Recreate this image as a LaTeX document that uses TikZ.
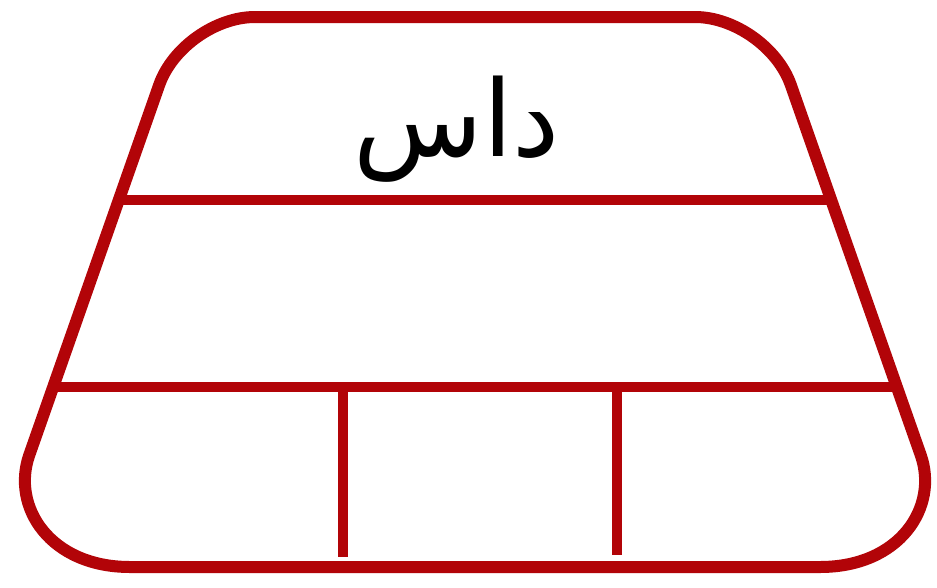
\documentclass[tikz,border=0pt]{standalone}
\usepackage{fontspec}
\newfontfamily\arabicfont[Script=Arabic]{DejaVu Sans}
\TeXXeTstate=1
\usetikzlibrary{calc}
\definecolor{framered}{RGB}{178,4,8}
\tikzset{
  outline/.style={draw=framered, line width=12pt, line join=round},
  divider/.style={draw=framered, line width=10pt},
  title/.style={text=black, font=\arabicfont\fontsize{106}{120}\selectfont, inner sep=0pt}
}
\begin{document}
\begin{tikzpicture}[x=1pt,y=-1pt]
\useasboundingbox (0,0) rectangle (937,587);
\coordinate (TL) at (183,17);
\coordinate (TR) at (767,17);
\coordinate (BL) at (-10,567);
\coordinate (BR) at (960,567);
\draw[outline] (130,567) -- (820,567)
  .. controls (900,567) and (938.9,506.9) .. (920.7,455)
  -- (790.8,84.9)
  .. controls (777.7,47.6) and (734.6,17) .. (695,17)
  -- (255,17)
  .. controls (215.4,17) and (172.3,47.6) .. (159.2,84.9)
  -- (29.3,455)
  .. controls (11.1,506.9) and (50,567) .. (130,567) -- cycle;
\coordinate (L1) at ($(TL)!0.3327!(BL)$);
\coordinate (R1) at ($(TR)!0.3327!(BR)$);
\coordinate (L2) at ($(TL)!0.6727!(BL)$);
\coordinate (R2) at ($(TR)!0.6727!(BR)$);
\draw[divider] (L1) -- (R1);
\draw[divider] (L2) -- (R2);
\coordinate (V1t) at (343,387);
\coordinate (V1b) at (343,557);
\coordinate (V2t) at (617,387);
\coordinate (V2b) at (617,555);
\draw[divider] (V1t) -- (V1b);
\draw[divider] (V2t) -- (V2b);
\node[title] (label) at (457,129) {\beginR داس\endR};
\end{tikzpicture}
\end{document}
